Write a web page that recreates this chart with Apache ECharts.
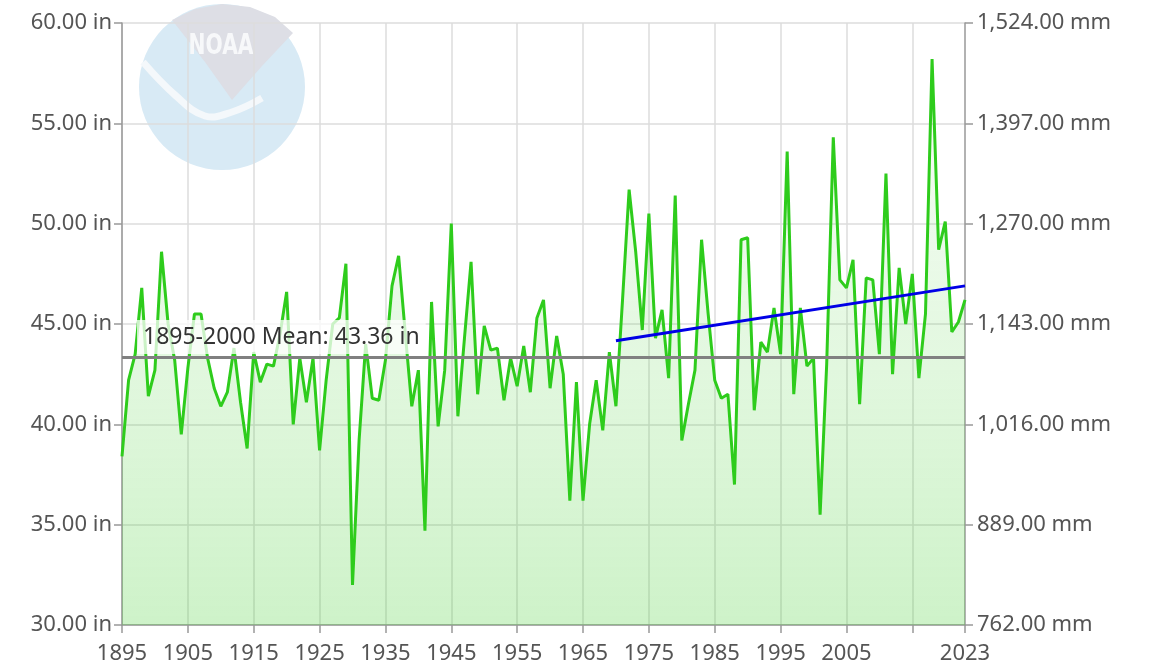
<!DOCTYPE html>
<html lang="en">
  <head>
    <meta charset="UTF-8" />
    <title>Precipitation</title>
    <style>
      body { margin: 0; padding: 0; background: #fff; }
      #container { width: 1150px; height: 671px; }
    </style>
  </head>
  <body>
    <div id="container"></div>
    <script src="https://cdn.jsdelivr.net/npm/echarts@6/dist/echarts.min.js"></script>
    <script>
      // annual precipitation, inches, 1895..2023
      const firstYear = 1895;
      const precip = [
        38.4, 42.2, 43.5, 46.8, 41.4, 42.7, 48.6, 45.0, 43.2, 39.5,
        42.8, 45.5, 45.5, 43.3, 41.8, 40.9, 41.6, 43.8, 41.1, 38.8,
        43.6, 42.1, 43.0, 42.9, 44.5, 46.6, 40.0, 43.3, 41.1, 43.3,
        38.7, 42.2, 45.0, 45.3, 48.0, 32.0, 39.2, 44.0, 41.3, 41.2,
        43.2, 46.9, 48.4, 44.6, 40.9, 42.7, 34.7, 46.1, 39.9, 42.7,
        50.0, 40.4, 44.3, 48.1, 41.5, 44.9, 43.7, 43.8, 41.2, 43.3,
        41.9, 43.9, 41.6, 45.3, 46.2, 41.8, 44.4, 42.5, 36.2, 42.1,
        36.2, 40.0, 42.2, 39.7, 43.6, 40.9, 46.2, 51.7, 48.6, 44.7,
        50.5, 44.3, 45.7, 42.3, 51.4, 39.2, 41.0, 42.7, 49.2, 45.5,
        42.2, 41.3, 41.5, 37.0, 49.2, 49.3, 40.7, 44.1, 43.6, 45.8,
        43.5, 53.6, 41.5, 45.8, 42.9, 43.3, 35.5, 43.0, 54.3, 47.2,
        46.8, 48.2, 41.0, 47.3, 47.2, 43.5, 52.5, 42.5, 47.8, 45.0,
        47.5, 42.3, 45.5, 58.2, 48.7, 50.1, 44.6, 45.1, 46.2
      ];
      const years = precip.map((v, i) => String(firstYear + i));

      const meanValue = 43.36;
      const meanLabel = "1895-2000 Mean: 43.36 in";
      const trendYears = ["1970", "2023"];
      const trendValues = [44.16, 46.9];

      const labelFont = "Noto Sans";
      const labelColor = "#555";

      var chart = echarts.init(document.getElementById("container"));

      const option = {
        animation: false,
        textStyle: { fontFamily: labelFont },
        grid: { left: 122, right: 185, top: 23, bottom: 46 },
        // faded NOAA logo in the corner
        graphic: [
          {
            type: "circle",
            z: -10,
            shape: { cx: 222, cy: 87, r: 83 },
            style: { fill: "#d8eaf5" },
          },
          {
            type: "polygon",
            z: -9,
            shape: {
              points: [
                [172, 20], [195, 9], [222, 4], [250, 7], [275, 17],
                [293, 33], [262, 66], [232, 100], [205, 62],
              ],
            },
            style: { fill: "#dddee5" },
          },
          {
            type: "polyline",
            z: -8,
            shape: {
              points: [[143, 62], [175, 95], [205, 116], [232, 112], [262, 98]],
              smooth: 0.4,
            },
            style: { stroke: "#f4f8fb", lineWidth: 7, fill: null },
          },
          {
            type: "text",
            z: -8,
            x: 221,
            y: 46,
            scaleX: 0.7,
            style: {
              text: "NOAA",
              fill: "#f7f8fa",
              font: "bold 29px 'DejaVu Sans'",
              align: "center",
              verticalAlign: "middle",
            },
          },
        ],
        xAxis: {
          type: "category",
          data: years,
          boundaryGap: false,
          axisLine: { lineStyle: { color: "#999", width: 1.5 } },
          axisTick: {
            length: 8,
            lineStyle: { color: "#999", width: 1.5 },
            interval: (i) => i % 10 === 0 || i === years.length - 1,
          },
          axisLabel: {
            color: labelColor,
            fontSize: 22,
            margin: 18,
            interval: (i) =>
              (i % 10 === 0 && i !== 120) || i === years.length - 1,
          },
          splitLine: {
            show: true,
            lineStyle: { color: "#dcdcdc", width: 1.5 },
            interval: (i) => i % 10 === 0,
          },
        },
        yAxis: [
          {
            type: "value",
            min: 30,
            max: 60,
            interval: 5,
            axisLine: { show: true, lineStyle: { color: "#999", width: 1.5 } },
            axisTick: { show: true, length: 8, lineStyle: { color: "#999", width: 1.5 } },
            axisLabel: {
              color: labelColor,
              fontSize: 22,
              margin: 10,
              formatter: (v) => v.toFixed(2) + " in",
            },
            splitLine: { lineStyle: { color: "#dcdcdc", width: 1.5 } },
          },
          {
            type: "value",
            position: "right",
            min: 762,
            max: 1524,
            interval: 127,
            axisLine: { show: true, lineStyle: { color: "#999", width: 1.5 } },
            axisTick: { show: true, length: 8, lineStyle: { color: "#999", width: 1.5 } },
            axisLabel: {
              color: labelColor,
              fontSize: 22,
              margin: 12,
              formatter: (v) =>
                v.toLocaleString("en-US", {
                  minimumFractionDigits: 2,
                  maximumFractionDigits: 2,
                }) + " mm",
            },
            splitLine: { show: false },
          },
        ],
        series: [
          {
            name: "Precipitation",
            type: "line",
            data: precip,
            symbol: "none",
            lineStyle: { color: "#2ecc1c", width: 3 },
            areaStyle: {
              color: new echarts.graphic.LinearGradient(0, 0, 0, 1, [
                { offset: 0, color: "rgba(60,205,40,0.04)" },
                { offset: 1, color: "rgba(60,205,40,0.36)" },
              ]),
            },
            markLine: {
              silent: true,
              symbol: ["none", "none"],
              lineStyle: { color: "#808080", width: 3, type: "solid" },
              label: {
                position: "insideStartTop",
                formatter: meanLabel,
                color: "#333",
                fontSize: 23,
                backgroundColor: "rgba(255,255,255,0.75)",
                padding: [6, 6, 5, 6],
                distance: [15, 3],
              },
              data: [{ yAxis: meanValue }],
            },
            z: 3,
          },
          {
            name: "Trend",
            type: "line",
            data: trendYears.map((y, i) => [y, trendValues[i]]),
            symbol: "none",
            lineStyle: { color: "#0000e6", width: 3 },
            z: 4,
          },
        ],
      };

      chart.setOption(option);
    </script>
  </body>
</html>
